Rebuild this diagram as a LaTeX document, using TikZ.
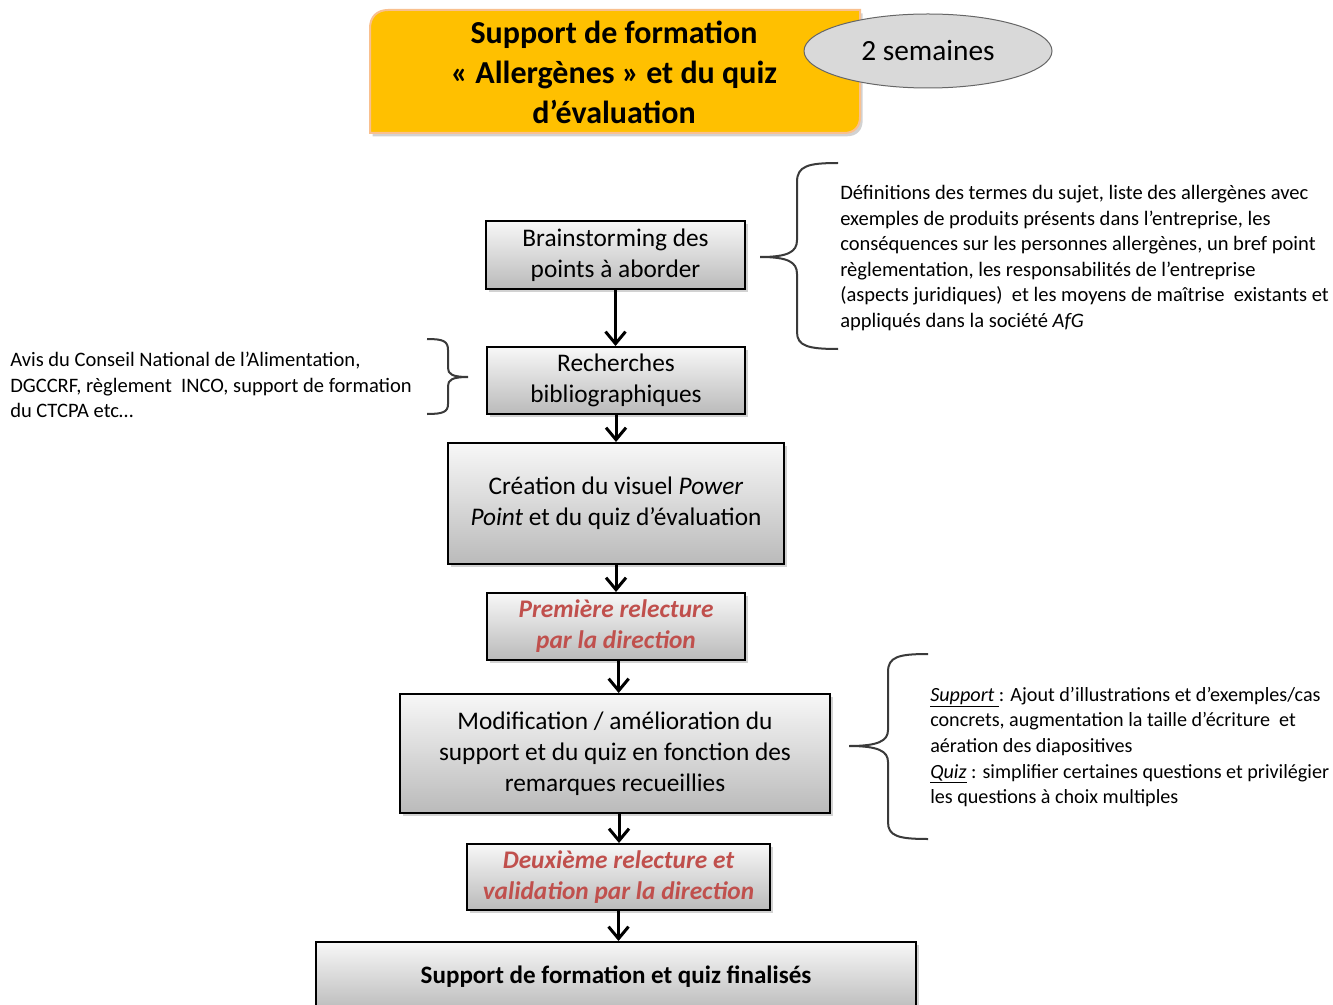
\documentclass[tikz,border=0pt]{standalone}
\usepackage{fontspec}
\setmainfont{Carlito}
\usetikzlibrary{arrows.meta,shadows,shapes.geometric}
\definecolor{titleorange}{HTML}{FFC000}
\definecolor{redtxt}{HTML}{C0504D}
\definecolor{glow}{HTML}{F9C08F}
\definecolor{ellgray}{HTML}{D9D9D9}
\definecolor{bracegray}{HTML}{3A3A3A}
\begin{document}
\begin{tikzpicture}[x=0.75pt,y=-0.75pt,
  box/.style={draw=black, line width=1.5pt, top color=black!3, bottom color=black!27, align=center, inner sep=0pt, text=black, font=\fontsize{19}{23.25}\selectfont, drop shadow={shadow xshift=2pt,shadow yshift=-2pt,opacity=0.35}},
  redbox/.style={box, text=redtxt, font=\fontsize{19}{23.25}\selectfont\bfseries\itshape},
  flow/.style={line width=2.25pt, -{Straight Barb[length=9pt,width=15pt,line width=2.25pt]}},
  brace/.style={draw=bracegray, line width=1.5pt},
  side/.style={align=left, anchor=west, inner sep=0pt, font=\fontsize{15.4}{19.2}\selectfont}
]
\useasboundingbox (0,0) rectangle (1333,1005);
\fill[white] (0,0) rectangle (1333,1005);

% title shape
\path[fill=titleorange, draw=glow, line width=1.5pt, drop shadow={shadow xshift=2pt,shadow yshift=-2.5pt,opacity=0.35}]
  (370,133) -- (370,28) .. controls (370,17) and (377,10) .. (388,10) -- (860,10) -- (860,117)
  .. controls (860,127) and (854,133) .. (844,133) -- cycle;
\node[font=\fontsize{24}{30}\selectfont\bfseries, align=center, inner sep=0pt] (title) at (614,72.5)
  {Support de formation\\« Allergènes » et du quiz\\d’évaluation};

\node[ellipse, draw=black!60, line width=0.75pt, fill=ellgray, minimum width=186pt, minimum height=55.5pt, inner sep=0pt,
  font=\fontsize{22}{24}\selectfont] (dur) at (928,51) {2 semaines};

% flow boxes
\node[box, minimum width=194.25pt, minimum height=51pt] (b1) at (615.5,255) {Brainstorming des\\points à aborder};
\node[box, minimum width=193.5pt, minimum height=50.25pt] (b2) at (616,380.5) {Recherches\\bibliographiques};
\node[box, minimum width=252pt, minimum height=90.75pt] (b3) at (616,503.5) {Création du visuel \textit{Power}\\\textit{Point} et du quiz d’évaluation};
\node[redbox, minimum width=193.5pt, minimum height=50.25pt] (b4) at (616,626.5) {Première relecture\\par la direction};
\node[box, minimum width=322.5pt, minimum height=89.25pt] (b5) at (615,753.5) {Modification / amélioration du\\support et du quiz en fonction des\\remarques recueillies};
\node[redbox, minimum width=227.25pt, minimum height=49.5pt] (b6) at (618.5,877) {Deuxième relecture et\\validation par la direction};
\node[box, font=\fontsize{18.8}{23.25}\selectfont\bfseries, minimum width=450pt, minimum height=52.5pt] (b7) at (616,977) {Support de formation et quiz finalisés};

% arrows
\draw[flow] (b1.south) -- (b1.south |- b2.north);
\draw[flow] (b2.south) -- (b2.south |- b3.north);
\draw[flow] (b3.south) -- (b3.south |- b4.north);
\draw[flow] ([xshift=2pt]b4.south) -- ([xshift=2pt]b4.south |- b5.north);
\draw[flow] ([xshift=3pt]b5.south) -- ([xshift=3pt]b5.south |- b6.north);
\draw[flow] (b6.south) -- (b6.south |- b7.north);

% braces
\draw[brace] (838,163) .. controls (808,163) and (797,166) .. (797,182) -- (797,240)
  .. controls (797,252) and (788,257) .. (760,257) .. controls (788,257) and (797,262) .. (797,274)
  -- (797,332) .. controls (797,346) and (808,349) .. (838,349);
\draw[brace] (427,339) .. controls (443,339) and (448,341) .. (448,350) -- (448,368)
  .. controls (448,374) and (452,377) .. (468,377) .. controls (452,377) and (448,380) .. (448,386)
  -- (448,404) .. controls (448,412) and (443,414) .. (427,414);
\draw[brace] (928,654) .. controls (898,654) and (888,657) .. (888,672) -- (888,730)
  .. controls (888,741) and (878,746) .. (849,746) .. controls (878,746) and (888,751) .. (888,762)
  -- (888,822) .. controls (888,836) and (898,839) .. (928,839);

% side texts
\node[side] (def) at (840,258) {Définitions des termes du sujet, liste des allergènes avec\\
exemples de produits présents dans l’entreprise, les\\
conséquences sur les personnes allergènes, un bref point\\
règlementation, les responsabilités de l’entreprise\\
(aspects juridiques)\ \ et les moyens de maîtrise\ \ existants et\\
appliqués dans la société \textit{AfG}};
\node[side] (avis) at (10,385) {Avis du Conseil National de l’Alimentation,\\
DGCCRF, règlement\ \ INCO, support de formation\\
du CTCPA etc…};
\node[side, font=\fontsize{15.1}{19.2}\selectfont] (supp) at (930,747) {\underline{\textit{Support}\ }: Ajout d’illustrations et d’exemples/cas\\
concrets, augmentation la taille d’écriture\ \ et\\
aération des diapositives\\
\underline{\textit{Quiz}} : simplifier certaines questions et privilégier\\
les questions à choix multiples};
\end{tikzpicture}
\end{document}
